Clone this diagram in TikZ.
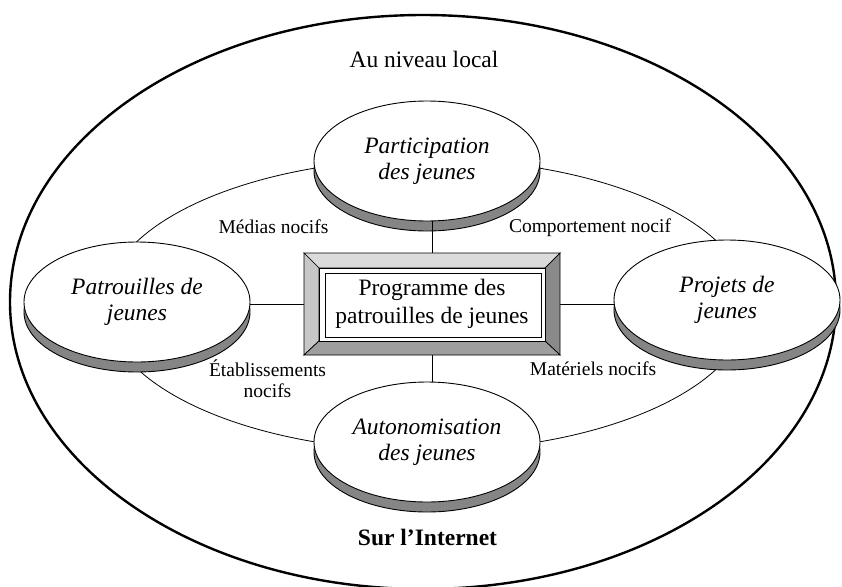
\documentclass[tikz,border=0pt]{standalone}
\usepackage{fontspec}
\setmainfont{Liberation Serif}
\usetikzlibrary{shapes.geometric,shadows}
\begin{document}
\begin{tikzpicture}[x=1pt,y=-1pt,
  disk/.style={ellipse, draw=black, line width=0.9pt, fill=white,
    minimum width=226pt, minimum height=120pt, inner sep=0pt, align=center,
    font=\fontsize{23.5}{26}\selectfont\itshape,
    general shadow={shadow yshift=-10pt, fill=black!48, draw=black, line width=0.9pt}},
  lbl/.style={font=\fontsize{19.5}{21}\selectfont, inner sep=0pt, anchor=base, align=center},
  big/.style={font=\fontsize{23.5}{28}\selectfont, inner sep=0pt, align=center},
  link/.style={draw=black, line width=0.9pt},
  bevel/.style={draw=black, line width=0.7pt, line join=miter}]
\useasboundingbox (0,0) rectangle (842,586);
\fill[white] (0,0) rectangle (842,586);

% outer and inner rings
\draw[line width=2.4pt] (423,302) ellipse [x radius=413pt, y radius=287pt];
\draw[line width=0.8pt] (427,305) ellipse [x radius=322pt, y radius=146pt];

% central box frame (anchor node)
\node[minimum width=256pt, minimum height=102pt, inner sep=0pt, outer sep=0pt] (prog) at (432,304) {};

% disks
\node[disk] (partic) at (427,161) {Participation\\des jeunes};
\node[disk] (patr) at (137,302) {Patrouilles de\\jeunes};
\node[disk] (proj) at (727,300) {Projets de\\jeunes};
\node[disk] (auto) at (427,442) {Autonomisation\\des jeunes};

% connectors (drawn under the box)
\draw[link] (prog.north) -- (prog.north |- partic.south);
\draw[link] (prog.south) -- (prog.south |- auto.north);
\draw[link] (prog.west) -- (prog.west -| patr.east);
\draw[link] (prog.east) -- (prog.east -| proj.west);

% bevelled frame
\coordinate (o1) at (304,253); \coordinate (o2) at (560,253);
\coordinate (o3) at (560,355); \coordinate (o4) at (304,355);
\coordinate (i1) at (319,268); \coordinate (i2) at (545,268);
\coordinate (i3) at (545,341); \coordinate (i4) at (319,341);
\filldraw[bevel, fill=black!14] (o1) -- (o2) -- (i2) -- (i1) -- cycle;
\filldraw[bevel, fill=black!22] (o1) -- (i1) -- (i4) -- (o4) -- cycle;
\filldraw[bevel, fill=black!46] (o2) -- (o3) -- (i3) -- (i2) -- cycle;
\filldraw[bevel, fill=black!38] (o4) -- (i4) -- (i3) -- (o3) -- cycle;
\filldraw[bevel, fill=white] (i1) rectangle (i3);
\draw[line width=0.9pt] (325,273) rectangle (541,337);
\node[big] (progtext) at (prog.center) {Programme des\\patrouilles de jeunes};

% labels
\node[lbl] (medias) at (273.5,233) {Médias nocifs};
\node[lbl] (comport) at (590,232) {Comportement nocif};
\node[lbl] (etab) at (267.5,397) {Établissements\\nocifs};
\node[lbl] (mater) at (593,375) {Matériels nocifs};
\node[big, anchor=base] (local) at (424,67) {Au niveau local};
\node[big, anchor=base, font=\fontsize{23.5}{28}\selectfont\bfseries] (internet) at (427.5,545) {Sur l’Internet};
\end{tikzpicture}
\end{document}
